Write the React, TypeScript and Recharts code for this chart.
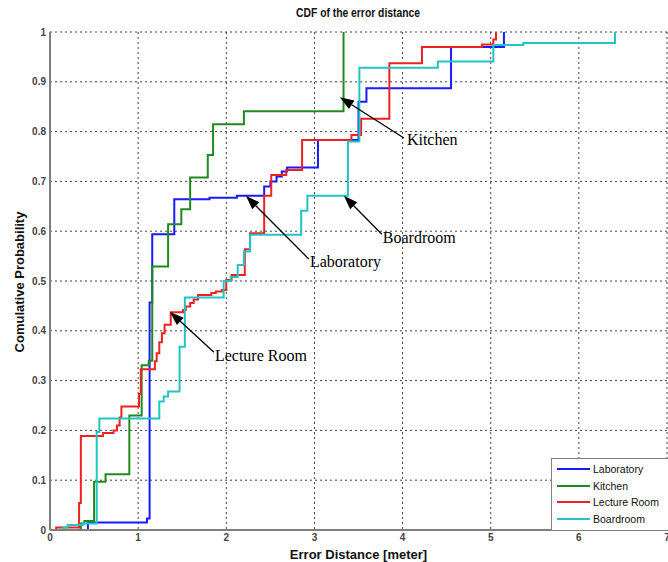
import { LineChart, Line, XAxis, YAxis, CartesianGrid, ReferenceLine } from 'recharts'

// error distance (m) where each CDF steps, and the level it steps to
const laboratory = [
  [0.42, 0], [0.43, 0.015], [1.1, 0.023], [1.13, 0.457], [1.16, 0.594], [1.41, 0.664],
  [1.81, 0.667], [2.12, 0.671], [2.43, 0.69], [2.5, 0.7], [2.57, 0.71], [2.63, 0.72],
  [2.69, 0.728], [3.04, 0.783], [3.5, 0.86], [3.59, 0.887], [4.55, 0.97], [5.15, 1],
]
const kitchen = [
  [0.34, 0], [0.35, 0.013], [0.39, 0.018], [0.5, 0.097], [0.63, 0.112], [0.9, 0.23],
  [1.04, 0.331], [1.12, 0.34], [1.16, 0.529], [1.34, 0.614], [1.49, 0.644], [1.59, 0.708],
  [1.79, 0.753], [1.85, 0.815], [2.2, 0.841], [3.33, 1],
]
const lectureRoom = [
  [0.06, 0], [0.07, 0.005], [0.33, 0.054], [0.35, 0.189], [0.6, 0.195], [0.72, 0.2],
  [0.76, 0.21], [0.79, 0.226], [0.81, 0.248], [1.01, 0.273], [1.03, 0.323], [1.19, 0.339],
  [1.21, 0.355], [1.24, 0.377], [1.27, 0.395], [1.3, 0.412], [1.37, 0.437], [1.51, 0.442],
  [1.54, 0.449], [1.59, 0.456], [1.63, 0.463], [1.68, 0.472], [1.83, 0.476], [1.88, 0.479],
  [1.95, 0.482], [2.0, 0.502], [2.06, 0.512], [2.21, 0.564], [2.27, 0.596], [2.43, 0.671],
  [2.51, 0.713], [2.68, 0.723], [2.86, 0.783], [3.42, 0.793], [3.53, 0.826], [3.85, 0.937],
  [4.22, 0.97], [4.9, 0.975], [5.03, 0.985], [5.06, 1],
]
const boardroom = [
  [0.14, 0], [0.15, 0.005], [0.2, 0.01], [0.37, 0.013], [0.53, 0.197], [0.56, 0.224],
  [1.24, 0.258], [1.29, 0.268], [1.34, 0.278], [1.47, 0.368], [1.53, 0.467], [1.97, 0.5],
  [2.05, 0.508], [2.13, 0.532], [2.2, 0.559], [2.27, 0.593], [2.85, 0.641], [2.92, 0.671],
  [3.38, 0.78], [3.51, 0.928], [4.4, 0.941], [5.03, 0.974], [5.37, 0.978], [6.41, 1],
]

const xTicks = [0, 1, 2, 3, 4, 5, 6, 7]
const yTicks = [0, 0.1, 0.2, 0.3, 0.4, 0.5, 0.6, 0.7, 0.8, 0.9, 1]

const series = [
  { name: 'Laboratory', color: '#1a1aff', points: laboratory },
  { name: 'Kitchen', color: '#1f8a1f', points: kitchen },
  { name: 'Lecture Room', color: '#ee2222', points: lectureRoom },
  { name: 'Boardroom', color: '#22c4c4', points: boardroom },
]

// arrow tail -> head in data units, text offset from tail in px
const notes = [
  { text: 'Kitchen', tail: [4.015, 0.787], head: [3.289, 0.869], dx: 3, dy: 7 },
  { text: 'Boardroom', tail: [3.765, 0.594], head: [3.334, 0.671], dx: 1, dy: 9 },
  { text: 'Laboratory', tail: [2.937, 0.544], head: [2.223, 0.671], dx: 1, dy: 8 },
  { text: 'Lecture Room', tail: [1.86, 0.357], head: [1.361, 0.438], dx: 1, dy: 9 },
]

const sans = "'Liberation Sans', Arial, sans-serif"
const axisLine = { stroke: '#7f7f7f', strokeWidth: 2 }
const tickStyle = { fill: '#444', fontSize: 10, fontWeight: 'bold', fontFamily: sans }

function Arrow(props: any) {
  const { x1, y1, x2, y2, text, dx, dy } = props
  const a = Math.atan2(y2 - y1, x2 - x1)
  const len = 14
  const w = 5
  const bx = x2 - len * Math.cos(a)
  const by = y2 - len * Math.sin(a)
  const p1 = `${bx + w * Math.sin(a)},${by - w * Math.cos(a)}`
  const p2 = `${bx - w * Math.sin(a)},${by + w * Math.cos(a)}`
  return (
    <g>
      <line x1={x1} y1={y1} x2={bx} y2={by} stroke="#000" strokeWidth={1.3} />
      <polygon points={`${x2},${y2} ${p1} ${p2}`} fill="#000" />
      <text x={x1 + dx} y={y1 + dy} fontFamily="'Liberation Serif', 'Times New Roman', serif" fontSize={16} fill="#000">
        {text}
      </text>
    </g>
  )
}

function YTitle() {
  return (
    <text
      transform="translate(24, 282) rotate(-90)"
      textAnchor="middle"
      fontFamily={sans}
      fontWeight="bold"
      fontSize={13}
      fill="#111"
    >
      Comulative Probability
    </text>
  )
}

function LegendBox() {
  return (
    <div
      style={{
        position: 'absolute', left: 551, top: 458, width: 114, border: '1px solid #808080',
        background: '#fff', padding: '2px 0 3px 5px', fontFamily: sans, fontSize: 10.5,
      }}
    >
      {series.map((s) => (
        <div key={s.name} style={{ display: 'flex', alignItems: 'center', height: 16.5 }}>
          <span style={{ display: 'inline-block', width: 33, height: 2, background: s.color, marginRight: 3 }} />
          <span style={{ color: '#111' }}>{s.name}</span>
        </div>
      ))}
    </div>
  )
}

export default function App() {
  return (
    <div style={{ position: 'absolute', left: 0, top: 0, width: 668, height: 562, background: '#fff' }}>
      <div
        style={{
          position: 'absolute', left: 50, width: 617, top: 6, textAlign: 'center',
          fontFamily: sans, fontWeight: 'bold', fontSize: 12, color: '#111',
        }}
      >
        <span style={{ display: 'inline-block', transform: 'scaleX(0.86)' }}>CDF of the error distance</span>
      </div>
      <LineChart width={668} height={562} margin={{ top: 32, right: 1, bottom: 0, left: 0 }}>
        <CartesianGrid stroke="#111" strokeDasharray="2 3" strokeWidth={0.8} />
        <XAxis
          dataKey="x"
          type="number"
          domain={[0, 7]}
          ticks={xTicks}
          interval={0}
          allowDataOverflow
          height={32}
          axisLine={axisLine}
          tickLine={false}
          tickSize={0}
          tickMargin={4}
          tick={tickStyle}
          label={{
            value: 'Error Distance [meter]', position: 'insideBottom', offset: 3,
            style: { fontFamily: sans, fontWeight: 'bold', fontSize: 13, fill: '#111' },
          }}
        />
        <YAxis
          type="number"
          domain={[0, 1]}
          ticks={yTicks}
          interval={0}
          allowDataOverflow
          width={50}
          axisLine={axisLine}
          tickLine={false}
          tickSize={0}
          tickMargin={4}
          tick={tickStyle}
          tickFormatter={(v: number) => String(Math.round(v * 10) / 10)}
          label={<YTitle />}
        />
        {series.map((s) => (
          <Line
            key={s.name}
            name={s.name}
            data={s.points.map(([x, y]) => ({ x, y }))}
            dataKey="y"
            type="stepAfter"
            stroke={s.color}
            strokeWidth={2}
            dot={false}
            activeDot={false}
            isAnimationActive={false}
          />
        ))}
        {notes.map((n) => (
          <ReferenceLine
            key={n.text}
            segment={[{ x: n.tail[0], y: n.tail[1] }, { x: n.head[0], y: n.head[1] }]}
            ifOverflow="visible"
            shape={(p: any) => <Arrow {...p} text={n.text} dx={n.dx} dy={n.dy} />}
          />
        ))}
      </LineChart>
      <LegendBox />
    </div>
  )
}
